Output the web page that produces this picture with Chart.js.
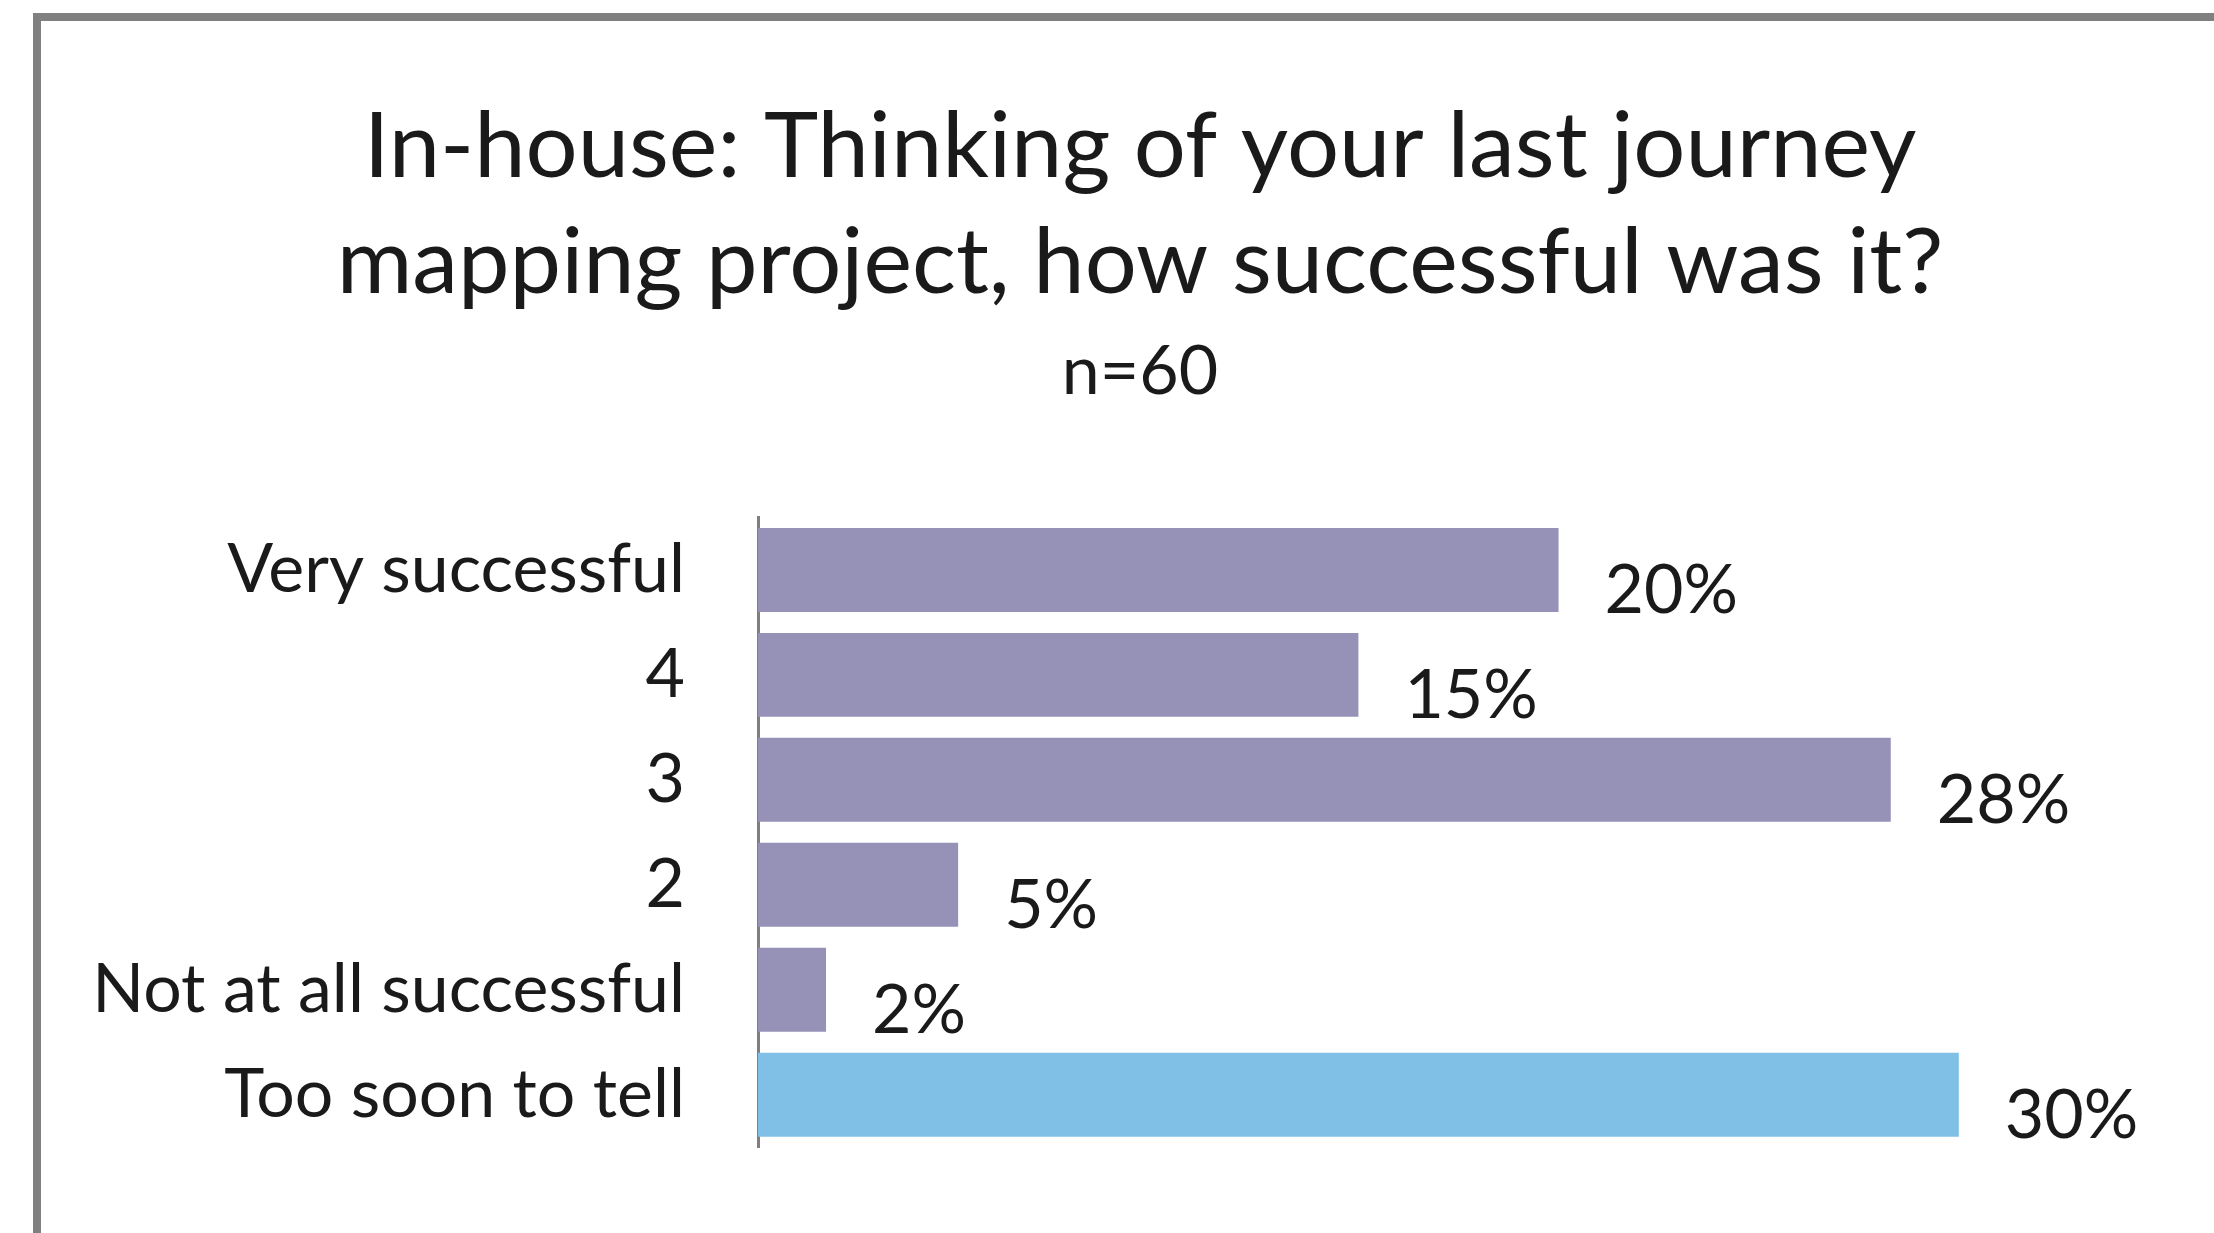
<!DOCTYPE html>
<html>
<head>
<meta charset="utf-8">
<title>Journey mapping success</title>
<script src="https://cdn.jsdelivr.net/npm/chart.js@4.4.1/dist/chart.umd.min.js"></script>
<style>
    html, body { margin: 0; padding: 0; background: #fff; overflow: hidden; }
    .frame {
        position: absolute;
        left: 33px;
        top: 13px;
        width: 2240px;
        height: 1260px;
        border-left: 8px solid #808080;
        border-top: 8px solid #808080;
        background: #fff;
    }
    canvas { display: block; }
</style>
</head>
<body>
<div class="frame">
    <canvas id="chart" width="2198" height="1240" style="width:2198px;height:1240px"></canvas>
</div>
<script>
const categories = ['Very successful', '4', '3', '2', 'Not at all successful', 'Too soon to tell'];
const values = [20, 15, 28.3, 5, 1.7, 30];
const titleLines = ['In-house: Thinking of your last journey', 'mapping project, how successful was it?'];
const subtitleText = 'n=60';

const PURPLE = '#9691b7';
const BLUE = '#81c0e6';
const TEXT = '#1a1a1a';
const LABEL_SIZE = 68;

// the "too soon" answer is not on the scale, so it gets its own colour
const barColors = categories.map(c => c === 'Too soon to tell' ? BLUE : PURPLE);

const valueLabels = {
    id: 'valueLabels',
    afterDatasetsDraw(chart) {
        const ctx = chart.ctx;
        const meta = chart.getDatasetMeta(0);
        ctx.save();
        ctx.font = `${LABEL_SIZE}px Lato`;
        ctx.fillStyle = TEXT;
        ctx.textAlign = 'left';
        ctx.textBaseline = 'middle';
        meta.data.forEach((bar, i) => {
            ctx.fillText(`${Math.round(values[i])}%`, bar.x + 46, bar.y + 21);
        });
        ctx.restore();
    }
};

Chart.defaults.font.family = 'Lato';
Chart.defaults.color = TEXT;

new Chart(document.getElementById('chart'), {
    type: 'bar',
    data: {
        labels: categories,
        datasets: [{
            data: values,
            backgroundColor: barColors,
            borderWidth: 0,
            categoryPercentage: 1,
            barPercentage: 0.8
        }]
    },
    options: {
        indexAxis: 'y',
        responsive: false,
        animation: false,
        layout: {
            padding: { left: 0, right: 0, top: 0, bottom: 98 }
        },
        plugins: {
            legend: { display: false },
            tooltip: { enabled: false },
            title: {
                display: true,
                text: titleLines,
                color: TEXT,
                font: { size: 92, weight: 'normal', lineHeight: 1.26 },
                padding: { top: 68, bottom: 0 }
            },
            subtitle: {
                display: true,
                text: subtitleText,
                color: TEXT,
                font: { size: LABEL_SIZE, weight: 'normal', lineHeight: 1.2 },
                padding: { top: 10, bottom: 105 }
            }
        },
        scales: {
            x: {
                display: false,
                min: 0,
                max: 37
            },
            y: {
                grid: { display: false, drawTicks: false },
                border: { display: true, color: '#7f7f7f', width: 3 },
                ticks: {
                    color: TEXT,
                    padding: 73,
                    font: { size: LABEL_SIZE }
                },
                afterFit(scale) {
                    scale.width = 717;
                }
            }
        }
    },
    plugins: [valueLabels]
});
</script>
</body>
</html>
